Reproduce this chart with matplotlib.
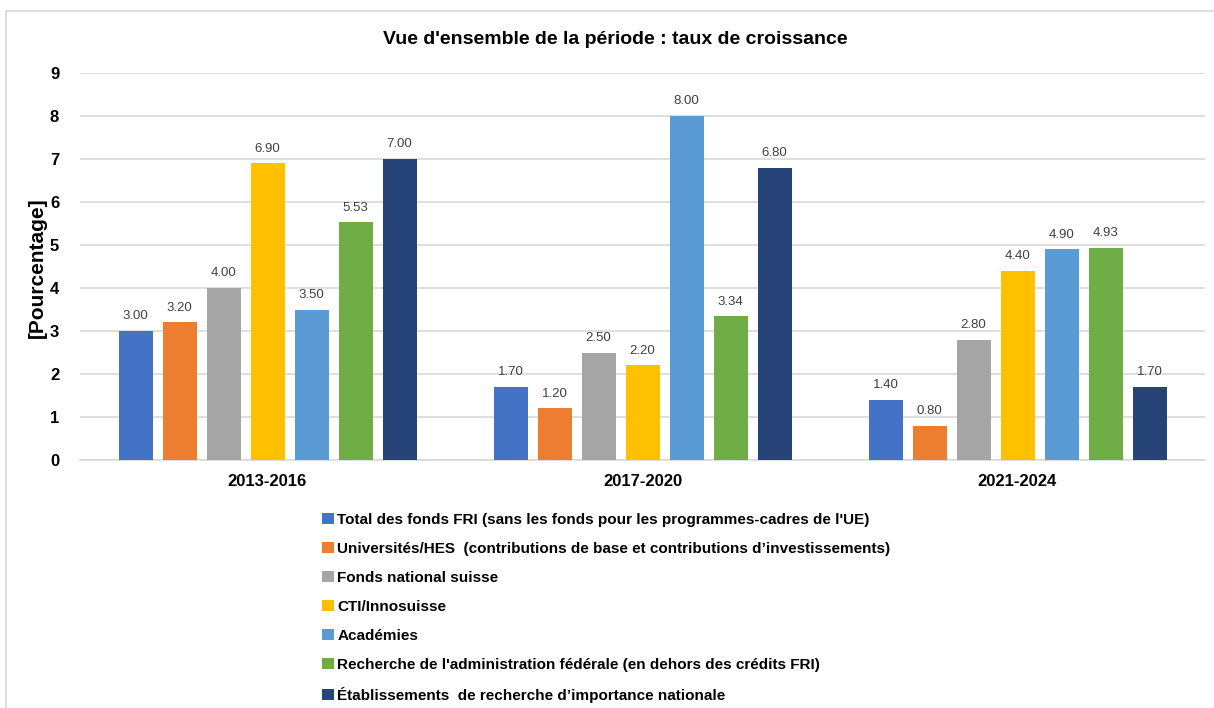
import matplotlib
matplotlib.use('Agg')
import matplotlib.pyplot as plt
from matplotlib.patches import Rectangle, Patch
import numpy as np

plt.rcParams['font.family'] = ['Liberation Sans', 'DejaVu Sans']

periods = ['2013-2016', '2017-2020', '2021-2024']
series_names = [
    "Total des fonds FRI (sans les fonds pour les programmes-cadres de l'UE)",
    "Universités/HES  (contributions de base et contributions d\u2019investissements)",
    "Fonds national suisse",
    "CTI/Innosuisse",
    "Académies",
    "Recherche de l'administration fédérale (en dehors des crédits FRI)",
    "Établissements  de recherche d\u2019importance nationale",
]
colors = ['#4472C4', '#ED7D31', '#A5A5A5', '#FFC000', '#5B9BD5', '#70AD47', '#264478']

total_fri = [3.00, 1.70, 1.40]
universites = [3.20, 1.20, 0.80]
fns = [4.00, 2.50, 2.80]
cti = [6.90, 2.20, 4.40]
academies = [3.50, 8.00, 4.90]
recherche_admin = [5.53, 3.34, 4.93]
etablissements = [7.00, 6.80, 1.70]
values = [total_fri, universites, fns, cti, academies, recherche_admin, etablissements]

fig = plt.figure(figsize=(12.14, 7.08), dpi=100)
ax = fig.add_axes([80/1214, 1 - 460/708, 1125/1214, 387/708])

x = np.arange(len(periods))
step = 44/375
width = 34/375
for i, (vals, col) in enumerate(zip(values, colors)):
    pos = x + (i - 3) * step
    bars = ax.bar(pos, vals, width, color=col, zorder=3)
    for b, v in zip(bars, vals):
        ax.text(b.get_x() + b.get_width()/2, v + 0.2, f'{v:.2f}', ha='center',
                va='bottom', fontsize=9.5, color='#404040')

ax.set_xlim(-0.5, 2.5)
ax.set_ylim(0, 9)
ax.set_yticks(range(10))
ax.set_xticks(x)
ax.set_xticklabels(periods, fontsize=12, fontweight='bold')
for t in ax.get_yticklabels():
    t.set_fontsize(12)
    t.set_fontweight('bold')
ax.tick_params(length=0, pad=15)
ax.tick_params(axis='x', pad=10)
ax.grid(axis='y', color='#D9D9D9', linewidth=1.2, zorder=0)
for s in ['top', 'right', 'left']:
    ax.spines[s].set_visible(False)
ax.spines['bottom'].set_color('#D9D9D9')
ax.spines['bottom'].set_linewidth(1.2)

fig.text(37/1214, 1 - 268/708, '[Pourcentage]', rotation=90, ha='center', va='center',
         fontsize=15, fontweight='bold')
fig.text(615/1214, 1 - 40/708, "Vue d'ensemble de la période : taux de croissance",
         ha='center', va='center', fontsize=14, fontweight='bold')

handles = [Patch(facecolor=c) for c in colors]
fig.legend(handles, series_names, loc='upper left',
           bbox_to_anchor=(316/1214, 1 - 507/708), frameon=False,
           prop={'weight': 'bold', 'size': 11},
           handlelength=0.75, handleheight=0.75, handletextpad=0.25,
           labelspacing=0.98, borderaxespad=0)

fig.patches.append(Rectangle((6/1214, -0.1), 1.2, 1.1 - 11/708,
                             transform=fig.transFigure, fill=False,
                             edgecolor='#D9D9D9', linewidth=1.2))

fig.savefig('out.png', dpi=100)
